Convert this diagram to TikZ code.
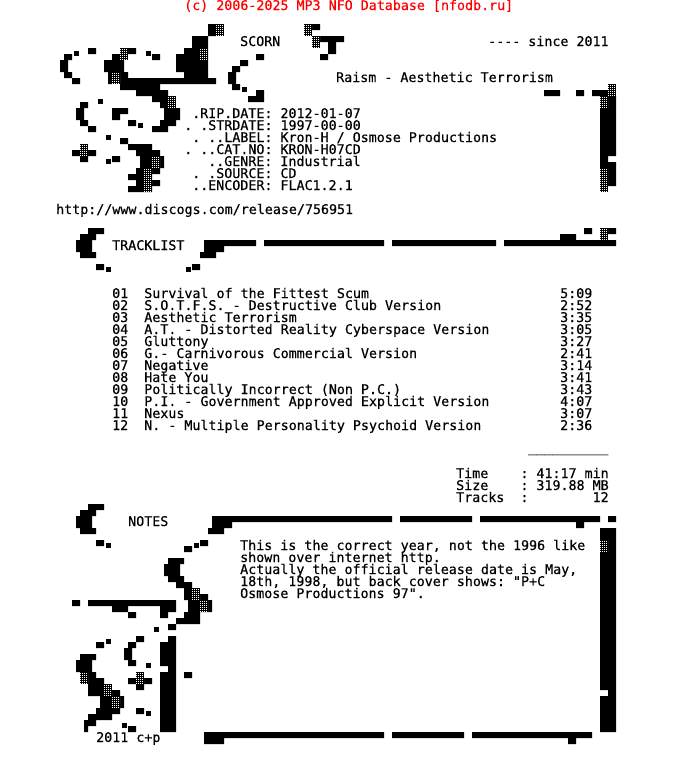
\documentclass[tikz,border=0pt]{standalone}
\usepackage{fontspec}
\usetikzlibrary{patterns}
\setmonofont[FakeBold=0.5]{DejaVu Sans Mono}
\definecolor{nfored}{RGB}{255,0,0}
\pgfdeclarepatternformonly{nfoshade}{\pgfqpoint{0pt}{0pt}}{\pgfqpoint{2pt}{2pt}}{\pgfqpoint{2pt}{2pt}}{%
  \pgfpathrectangle{\pgfqpoint{0pt}{0pt}}{\pgfqpoint{1.3pt}{1.2pt}}%
  \pgfusepath{fill}}
\newcommand{\pip}[2]{\fill (#1+.25,#2+.5) rectangle (#1+.875,#2+1.33);}
\newcommand{\shd}[4]{\fill (#1,#2) rectangle (#3,#4); \fill[pattern=nfoshade, pattern color=white] (#1,#2) rectangle (#3,#4);}
\begin{document}
\begin{tikzpicture}[x=8pt,y=-6pt]
  \tikzstyle{line} = [anchor=west, inner sep=0pt, text height=10pt, text depth=2pt, font=\fontsize{13.33}{12}\selectfont\ttfamily]
  \useasboundingbox (0,0) rectangle (87,130);
  \fill[white] (0,0) rectangle (87,130);

  % Header text
  \node (banner) [line, text=nfored] at (23,1) {(c) 2006-2025 MP3 NFO Database [nfodb.ru]};
  \node (group) [line] at (30,7) {SCORN};
  \node (since) [line] at (61,7) {---- since 2011};
  \node (release) [line] at (42,13) {Raism - Aesthetic Terrorism};

  % Release info
  \node (ripdate) [line] at (24,19) {.RIP.DATE: 2012-01-07};
  \node (strdate) [line] at (23,21) {. .STRDATE: 1997-00-00};
  \node (label) [line] at (24,23) {. ..LABEL: Kron-H / Osmose Productions};
  \node (catno) [line] at (23,25) {. ..CAT.NO: KRON-H07CD};
  \node (genre) [line] at (26,27) {..GENRE: Industrial};
  \node (source) [line] at (24,29) {. .SOURCE: CD};
  \node (encoder) [line] at (24,31) {..ENCODER: FLAC1.2.1};
  \node (url) [line] at (7,35) {http://www.discogs.com/release/756951};

  % Tracklist
  \node (tracklist) [line] at (14,41) {TRACKLIST};
  \node (track01) [line] at (14,49) {01~~Survival of the Fittest Scum};
  \node (track02) [line] at (14,51) {02~~S.O.T.F.S. - Destructive Club Version};
  \node (track03) [line] at (14,53) {03~~Aesthetic Terrorism};
  \node (track04) [line] at (14,55) {04~~A.T. - Distorted Reality Cyberspace Version};
  \node (track05) [line] at (14,57) {05~~Gluttony};
  \node (track06) [line] at (14,59) {06~~G.- Carnivorous Commercial Version};
  \node (track07) [line] at (14,61) {07~~Negative};
  \node (track08) [line] at (14,63) {08~~Hate You};
  \node (track09) [line] at (14,65) {09~~Politically Incorrect (Non P.C.)};
  \node (track10) [line] at (14,67) {10~~P.I. - Government Approved Explicit Version};
  \node (track11) [line] at (14,69) {11~~Nexus};
  \node (track12) [line] at (14,71) {12~~N. - Multiple Personality Psychoid Version};
  \node (time01) [line] at (70,49) {5:09};
  \node (time02) [line] at (70,51) {2:52};
  \node (time03) [line] at (70,53) {3:35};
  \node (time04) [line] at (70,55) {3:05};
  \node (time05) [line] at (70,57) {3:27};
  \node (time06) [line] at (70,59) {2:41};
  \node (time07) [line] at (70,61) {3:14};
  \node (time08) [line] at (70,63) {3:41};
  \node (time09) [line] at (70,65) {3:43};
  \node (time10) [line] at (70,67) {4:07};
  \node (time11) [line] at (70,69) {3:07};
  \node (time12) [line] at (70,71) {2:36};

  % Totals
  \node (rule) [line, yshift=2pt] at (66,75) {\_\_\_\_\_\_\_\_\_\_};
  \node (total) [line] at (57,79) {Time~~~~: 41:17 min};
  \node (size) [line] at (57,81) {Size~~~~: 319.88 MB};
  \node (tracks) [line] at (57,83) {Tracks~~:~~~~~~~~12};

  % Notes
  \node (notes) [line] at (16,87) {NOTES};
  \node (note1) [line] at (30,91) {This is the correct year, not the 1996 like};
  \node (note2) [line] at (30,93) {shown over internet http.};
  \node (note3) [line] at (30,95) {Actually the official release date is May,};
  \node (note4) [line] at (30,97) {18th, 1998, but back cover shows: "P+C};
  \node (note5) [line] at (30,99) {Osmose Productions 97".};
  \node (year) [line] at (12,123) {2011 c+p};

  % Top art, left C
  \fill (11,8) rectangle (12,9) (8,9) rectangle (9,10) (7.5,10) rectangle (8.5,12)
        (8,12) rectangle (9,13) (9,13) rectangle (10,14);
  \pip{9}{8}
  % Top art, big S
  \fill (26,4) rectangle (27,6) (24,6) rectangle (26,8) (23,8) rectangle (26,9)
        (22,9) rectangle (26,12) (23,12) rectangle (26,13) (15,13) rectangle (27,14)
        (15,14) rectangle (20,15) (17,15) rectangle (21,16) (19,16) rectangle (21,17)
        (20,17) rectangle (21,18) (20.5,18) rectangle (22.5,20)
        (20,20) rectangle (22,21) (19,21) rectangle (21,22);
  \fill (16,8) rectangle (17,9) (14,9) rectangle (15,10) (13,10) rectangle (15.5,12)
        (13.5,12) rectangle (14,14) (15,12) rectangle (16,13) (19,9) rectangle (20,10);
  \shd{27}{4}{28}{6}
  \shd{25}{8}{26}{10}
  \shd{21}{16}{22}{18}
  \shd{15}{8}{16}{10}
  \shd{14}{12}{15}{14}
  \pip{18}{8}
  % Top art, right C
  \fill (32,9) rectangle (33,10) (30,10) rectangle (31,11) (29,11) rectangle (30,12)
        (28.5,12) rectangle (29.5,14) (29,14) rectangle (30,15) (32,15) rectangle (33,16)
        (31,16) rectangle (33,17);
  \pip{30}{14}
  % Top art, hook
  \fill (39,4) rectangle (40,5) (40,6) rectangle (43,7) (41,7) rectangle (42,9) (40,9) rectangle (41,10);
  \shd{38}{4}{39}{6}
  \shd{39}{6}{40}{8}
  % Top art, middle row
  \fill (10,17) rectangle (11,18) (9.5,18) rectangle (10.5,20) (10,20) rectangle (11,21)
        (11,21) rectangle (12,22) (14,18) rectangle (16,19) (14,19) rectangle (15,20)
        (16,20) rectangle (17,21);
  \pip{12}{16}
  \pip{17}{20}
  % Top art, lower blob
  \fill (15,23) rectangle (16,24) (16,24) rectangle (19,25) (17,25) rectangle (20,26)
        (17.5,26) rectangle (20.5,28) (17,28) rectangle (20,29) (16,29) rectangle (19,30)
        (17,30) rectangle (20,31) (16,31) rectangle (19,32);
  \shd{19}{26}{20}{28}
  \shd{18}{28}{19}{32}
  \pip{13}{22}
  % Top art, cross
  \fill (9,25) rectangle (12,26) (10,26) rectangle (11,27) (14,26) rectangle (15,27);
  \shd{10}{24}{11}{26}
  \pip{13}{26}
  % Top art, right column
  \fill (68,15) rectangle (70,16) (72,15) rectangle (73,16) (74,15) rectangle (76,16)
        (76,16) rectangle (77,18) (75,18) rectangle (77,26) (75,26) rectangle (76,27)
        (75,27) rectangle (77,28) (76,28) rectangle (77,31);
  \shd{76}{14}{77}{16}
  \shd{75}{16}{76}{18}
  \shd{75}{28}{76}{32}

  % Tracklist art
  \fill (11,38) rectangle (13,39) (10,39) rectangle (12,40) (9.5,40) rectangle (11.5,42)
        (10,42) rectangle (12,43) (12,44) rectangle (13,45) (24,44) rectangle (25,45)
        (25,42) rectangle (27,43) (25.5,41) rectangle (28,42) (25.5,40) rectangle (32,41)
        (33,40) rectangle (48,41) (49,40) rectangle (62,41) (63,40) rectangle (77,41)
        (70,39) rectangle (72,40) (73,38) rectangle (74,39) (76,38) rectangle (77,39);
  \shd{75}{38}{76}{40}
  \pip{13}{44}
  \pip{23}{44}

  % Notes art, frame
  \fill (11,84) rectangle (13,85) (10,85) rectangle (12,86) (9.5,86) rectangle (11.5,88)
        (10,88) rectangle (12,89) (12,90) rectangle (13,91) (26.5,86) rectangle (49,87)
        (50,86) rectangle (59,87) (60,86) rectangle (75,87) (76,86) rectangle (77,87)
        (26.5,87) rectangle (29,88) (26,88) rectangle (28,89) (72,87) rectangle (73,88)
        (75,88) rectangle (77,115) (76,115) rectangle (77,116) (75,116) rectangle (77,122)
        (25.5,122) rectangle (48,123) (49,122) rectangle (58,123) (59,122) rectangle (74,123)
        (25.5,123) rectangle (28,124) (71,123) rectangle (72,124);
  \shd{75}{90}{76}{92}
  \pip{13}{90}
  % Notes art, big S
  \fill (25,90) rectangle (26,91) (23,91) rectangle (24,92) (21,93) rectangle (23,94)
        (20.5,94) rectangle (22.5,96) (21,96) rectangle (23,97) (22,97) rectangle (24,98)
        (23,98) rectangle (24,100) (25,99) rectangle (26,100) (23.5,100) rectangle (26.5,102)
        (23,102) rectangle (25,103) (22,103) rectangle (25,104);
  \shd{24}{98}{25}{100}
  \shd{25}{100}{26}{102}
  \pip{24}{90}
  % Notes art, bar and column
  \fill (9,100) rectangle (10,101) (11,100) rectangle (22,101) (14,101) rectangle (16,102)
        (20,101) rectangle (22,102) (16,102) rectangle (17,103) (20,102) rectangle (21,103)
        (21,104) rectangle (22,105) (21,106) rectangle (22,107) (20,107) rectangle (22,111)
        (21,111) rectangle (22,112) (20,112) rectangle (22,122) (23,112) rectangle (24,113);
  \pip{19}{104}
  % Notes art, inner C
  \fill (17,106) rectangle (18,107) (16,107) rectangle (17,108) (15.5,108) rectangle (16.5,110)
        (16,110) rectangle (17,111) (12,107) rectangle (13,108);
  \pip{18}{110}
  \pip{13}{106}
  % Notes art, lower S
  \fill (10,109) rectangle (12,110) (9.5,110) rectangle (11.5,112) (11,112) rectangle (12,114)
        (11,113) rectangle (13,114) (11,114) rectangle (13,116)
        (14,115) rectangle (15,116) (12.5,116) rectangle (15.5,118)
        (12,118) rectangle (15,119) (11,119) rectangle (14,120) (10.5,120) rectangle (12,121)
        (10.5,121) rectangle (11,122);
  \shd{10}{112}{11}{114}
  \shd{13}{114}{14}{116}
  \shd{14}{116}{15}{118}
  % Notes art, cross
  \fill (16,113) rectangle (19,114) (17,114) rectangle (18,115) (17,118) rectangle (18,119)
        (16,121) rectangle (17,122);
  \shd{17}{112}{18}{114}
  \pip{18}{118}
  \pip{15}{120}
\end{tikzpicture}
\end{document}
